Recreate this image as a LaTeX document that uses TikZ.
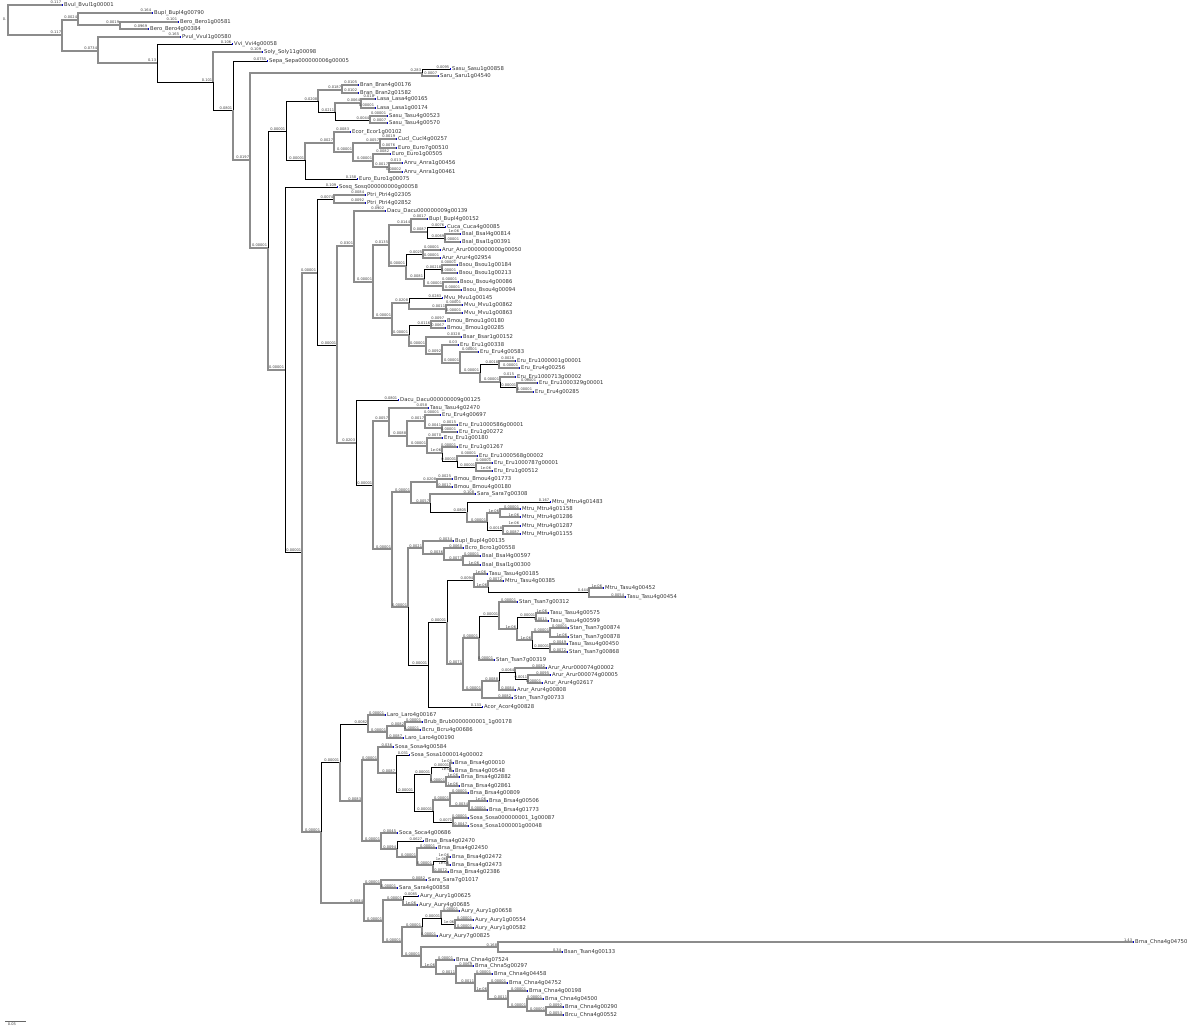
\documentclass[tikz,border=0pt]{standalone}
\usepackage{fontspec}
\newfontfamily\tf{DejaVu Sans}
\tikzset{
 gr/.style={draw=black!45, line width=1.1pt},
 bk/.style={draw=black, line width=0.8pt},
 bl/.style={font=\fontsize{3.6}{4}\selectfont\tf, text=black!75, anchor=south east, inner sep=0.4pt},
 lf/.style={font=\fontsize{5.3}{5.6}\selectfont\tf, text=black!80, anchor=west, inner sep=0.4pt, xshift=1.6pt},
 rm/.style={draw=red!80!black, line width=0.5pt},
}
\newcommand\E[6][gr]{\coordinate (#3) at (#4,#5);
  \draw[#1] (#2) |- (#3) node[bl]{#6};
  \draw[rm] (#3) -- ++(0,2.2);}
\newcommand\Lf[7][gr]{\coordinate (#3) at (#4,#5);
  \draw[#1] (#2) |- (#3) node[bl]{#6};
  \fill[blue!80!black] (#3) ++(0.2,-0.6) rectangle ++(1.2,1.2);
  \node[lf] (#3t) at (#3) {#7};}
\begin{document}
\begin{tikzpicture}[x=1pt,y=-1pt]
\useasboundingbox (0,0) rectangle (1200,1032);
\fill[white] (0,0) rectangle (1200,1032);
\coordinate (R) at (8,20);
\draw[rm] (R) -- ++(0,2.2);
\node[bl,anchor=east] (rootlab) at (7,19) {0.};
\Lf{R}{a1}{62}{5}{0.117}{Bvul\_Bvul1g00001}
\E{R}{n1}{62}{35}{0.117}
\E{n1}{n2}{78}{20}{0.0024}
\Lf{n2}{a2}{152}{13}{0.164}{Bupl\_Bupl4g00790}
\E{n2}{n3}{120}{25}{0.0019}
\Lf{n3}{a3}{178}{22}{0.101}{Bero\_Bero1g00581}
\Lf{n3}{a4}{148}{29}{0.0969}{Bero\_Bero4g00384}
\E{n1}{n4}{98}{51}{0.0734}
\Lf{n4}{a5}{180}{37}{0.165}{Pvul\_Vvul1g00580}
\E{n4}{n5}{157}{63}{0.13}
\Lf[bk]{n5}{a6}{232}{44}{0.106}{Vvi\_Vvi4g00058}
\E[bk]{n5}{n6}{213}{82}{0.101}
\Lf{n6}{a7}{262}{52}{0.109}{Soly\_Soly11g00098}
\E[bk]{n6}{n7}{233}{110}{0.0801}
\Lf[bk]{n7}{a8}{267}{61}{0.0755}{Sepa\_Sepa000000006g00005}
\E{n7}{n8}{250}{160}{0.0197}
\E{n8}{n9}{422}{73}{0.283}
\Lf[bk]{n9}{a9}{450}{69}{0.0095}{Sasu\_Sasu1g00858}
\Lf{n9}{a10}{438}{76}{0.0007}{Saru\_Saru1g04540}
\E{n8}{n10}{268}{248}{0.00001}
\E[bk]{n10}{n11}{286}{131}{0.00001}
\E[bk]{n11}{n12}{318}{101}{0.0208}
\E{n12}{n13}{342}{90}{0.0187}
\Lf{n13}{a11}{358}{85}{0.0105}{Bran\_Bran4g00176}
\Lf{n13}{a12}{358}{93}{0.0102}{Bran\_Bran2g01582}
\E[bk]{n12}{n14}{335}{112}{0.0211}
\E{n14}{n15}{361}{103}{0.0064}
\Lf{n15}{a13}{375}{99}{0.010}{Lasa\_Lasa4g00165}
\Lf{n15}{a14}{375}{108}{0.00001}{Lasa\_Lasa1g00174}
\E[bk]{n14}{n16}{370}{120}{0.0044}
\Lf{n16}{a15}{387}{116}{0.00001}{Sasu\_Tasu4g00523}
\Lf{n16}{a16}{387}{123}{0.0007}{Sasu\_Tasu4g00570}
\E[bk]{n11}{n17}{305}{160}{0.00001}
\E{n17}{n18}{334}{143}{0.0027}
\Lf{n18}{a17}{350}{132}{0.0083}{Ecor\_Ecor1g00102}
\E{n18}{n19}{353}{152}{0.00001}
\E{n19}{n20}{380}{143}{0.0057}
\Lf{n20}{a18}{396}{139}{0.0019}{Cucl\_Cucl4g00257}
\Lf{n20}{a19}{396}{148}{0.0076}{Euro\_Euro7g00510}
\E{n19}{n21}{373}{161}{0.00001}
\Lf{n21}{a20}{390}{154}{0.0082}{Euro\_Euro1g00505}
\E{n21}{n22}{389}{167}{0.0017}
\Lf{n22}{a21}{402}{163}{0.013}{Anru\_Anra1g00456}
\Lf{n22}{a22}{402}{172}{0.00002}{Anru\_Anra1g00461}
\Lf[bk]{n17}{a23}{357}{179}{0.158}{Euro\_Euro1g00075}
\E{n10}{n23}{285}{370}{0.00001}
\Lf[bk]{n23}{a24}{337}{187}{0.109}{Sosq\_Sosq000000000g00058}
\E[bk]{n23}{n24}{302}{552}{0.00001}
\E{n24}{n25}{317}{273}{0.00001}
\E[bk]{n25}{n26}{334}{199}{0.0074}
\Lf{n26}{a25}{365}{195}{0.0084}{Ptri\_Ptri4g02305}
\Lf{n26}{a26}{365}{203}{0.0092}{Ptri\_Ptri4g02852}
\E[bk]{n25}{n27}{337}{345}{0.00001}
\E{n27}{n28}{354}{246}{0.0301}
\Lf{n28}{a27}{385}{211}{0.0902}{Dacu\_Dacu000000009g00139}
\E{n28}{n29}{373}{282}{0.00001}
\E{n29}{n30}{389}{245}{0.0135}
\E{n30}{n31}{411}{225}{0.0144}
\Lf{n31}{a28}{427}{219}{0.0017}{Bupl\_Bupl4g00152}
\E{n31}{n32}{427}{232}{0.0087}
\Lf[bk]{n32}{a29}{445}{227}{0.0076}{Cuca\_Cuca4g00085}
\E[bk]{n32}{n33}{445}{238}{0.0069}
\Lf{n33}{a30}{460}{234}{1e-06}{Bsal\_Bsal4g00814}
\Lf{n33}{a31}{460}{242}{0.00001}{Bsal\_Bsal1g00391}
\E{n30}{n34}{406}{266}{0.00001}
\E[bk]{n34}{n35}{423}{254}{0.0025}
\Lf{n35}{a32}{440}{250}{0.00001}{Arur\_Arur0000000000g00050}
\Lf{n35}{a33}{440}{258}{0.00001}{Arur\_Arur4g02954}
\E{n34}{n36}{424}{279}{0.0081}
\E[bk]{n36}{n37}{442}{269}{0.00218}
\Lf{n37}{a34}{457}{265}{0.00001}{Bsou\_Bsou1g00184}
\Lf{n37}{a35}{457}{273}{0.00001}{Bsou\_Bsou1g00213}
\E{n36}{n38}{443}{286}{0.00001}
\Lf{n38}{a36}{458}{282}{0.00001}{Bsou\_Bsou4g00086}
\Lf{n38}{a37}{461}{290}{0.00001}{Bsou\_Bsou4g00094}
\E{n29}{n39}{392}{318}{0.00001}
\E{n39}{n40}{409}{303}{0.0208}
\Lf[bk]{n40}{a38}{442}{298}{0.0283}{Mvu\_Mvu1g00145}
\E{n40}{n41}{446}{309}{0.0011}
\Lf{n41}{a39}{462}{305}{0.00001}{Mvu\_Mvu1g00862}
\Lf{n41}{a40}{462}{313}{0.00001}{Mvu\_Mvu1g00863}
\E{n39}{n42}{409}{335}{0.00001}
\E[bk]{n42}{n43}{431}{325}{0.0116}
\Lf{n43}{a41}{445}{321}{0.0097}{Bmou\_Bmou1g00180}
\Lf{n43}{a42}{445}{328}{0.0067}{Bmou\_Bmou1g00285}
\E{n42}{n44}{426}{346}{0.00001}
\Lf{n44}{a43}{461}{337}{0.0328}{Bsar\_Bsar1g00152}
\E{n44}{n45}{442}{354}{0.0092}
\Lf{n45}{a44}{458}{345}{0.03}{Eru\_Eru1g00338}
\E{n45}{n46}{460}{363}{0.00001}
\Lf{n46}{a45}{478}{352}{0.00001}{Eru\_Eru4g00583}
\E{n46}{n47}{480}{373}{0.00001}
\E[bk]{n47}{n48}{499}{364}{0.0018}
\Lf{n48}{a46}{515}{361}{0.0026}{Eru\_Eru1000001g00001}
\Lf{n48}{a47}{519}{368}{0.00001}{Eru\_Eru4g00256}
\E{n47}{n49}{500}{382}{0.00001}
\Lf{n49}{a48}{515}{377}{0.015}{Eru\_Eru1000713g00002}
\E[bk]{n49}{n50}{517}{387}{0.00001}
\Lf{n50}{a49}{537}{383}{0.00001}{Eru\_Eru1000329g00001}
\Lf{n50}{a50}{533}{392}{0.00001}{Eru\_Eru4g00285}
\E{n27}{n51}{356}{443}{0.0203}
\Lf[bk]{n51}{a51}{398}{400}{0.0801}{Dacu\_Dacu000000009g00125}
\E[bk]{n51}{n52}{373}{485}{0.00001}
\E{n52}{n53}{389}{421}{0.0057}
\Lf{n53}{a52}{428}{408}{0.058}{Tasu\_Tasu4g02470}
\E{n53}{n54}{407}{436}{0.0088}
\E{n54}{n55}{425}{421}{0.0017}
\Lf{n55}{a53}{440}{415}{0.00001}{Eru\_Eru4g00697}
\E{n55}{n56}{442}{428}{0.0041}
\Lf{n56}{a54}{457}{425}{0.0015}{Eru\_Eru1000586g00001}
\Lf{n56}{a55}{457}{432}{0.00001}{Eru\_Eru1g00272}
\E{n54}{n57}{427}{446}{0.00001}
\Lf{n57}{a56}{442}{438}{0.0070}{Eru\_Eru1g00180}
\E{n57}{n58}{442}{453}{1e-06}
\Lf{n58}{a57}{457}{447}{0.00001}{Eru\_Eru1g01267}
\E[bk]{n58}{n59}{457}{461}{0.00001}
\Lf{n59}{a58}{477}{456}{0.00001}{Eru\_Eru1000568g00002}
\E[bk]{n59}{n60}{476}{467}{0.00001}
\Lf{n60}{a59}{492}{463}{0.00001}{Eru\_Eru1000787g00001}
\Lf{n60}{a60}{492}{471}{1e-06}{Eru\_Eru1g00512}
\E{n52}{n61}{392}{549}{0.00001}
\E{n61}{n62}{411}{492}{0.00001}
\E{n62}{n63}{437}{482}{0.0208}
\Lf{n63}{a61}{452}{479}{0.0025}{Bmou\_Bmou4g01773}
\Lf{n63}{a62}{452}{487}{0.0017}{Bmou\_Bmou4g00180}
\E{n62}{n64}{430}{503}{0.0057}
\Lf{n64}{a63}{475}{494}{0.108}{Sara\_Sara7g00308}
\E[bk]{n64}{n65}{467}{512}{0.0805}
\Lf[bk]{n65}{a64}{550}{502}{0.167}{Mtru\_Mtru4g01483}
\E{n65}{n66}{487}{522}{0.00001}
\E{n66}{n67}{500}{513}{1e-06}
\Lf{n67}{a65}{520}{509}{0.00001}{Mtru\_Mtru4g01158}
\Lf{n67}{a66}{520}{517}{1e-06}{Mtru\_Mtru4g01286}
\E[bk]{n66}{n68}{503}{530}{0.0018}
\Lf{n68}{a67}{520}{526}{1e-06}{Mtru\_Mtru4g01287}
\Lf{n68}{a68}{520}{534}{0.0087}{Mtru\_Mtru4g01155}
\E{n61}{n69}{408}{607}{0.00001}
\E{n69}{n70}{423}{548}{0.0021}
\Lf{n70}{a69}{453}{541}{0.0034}{Bupl\_Bupl4g00135}
\E{n70}{n71}{444}{554}{0.0036}
\Lf{n71}{a70}{463}{548}{0.0060}{Bcro\_Bcro1g00558}
\E{n71}{n72}{463}{560}{0.0073}
\Lf{n72}{a71}{480}{556}{0.00001}{Bsal\_Bsal4g00597}
\Lf{n72}{a72}{480}{565}{1e-06}{Bsal\_Bsal1g00300}
\E[bk]{n69}{n73}{428}{665}{0.00001}
\E[bk]{n73}{n74}{447}{622}{0.00001}
\E[bk]{n74}{n75}{474}{580}{0.0094}
\Lf{n75}{a73}{487}{574}{1e-06}{Tasu\_Tasu4g00185}
\E{n75}{n76}{488}{587}{1e-06}
\Lf{n76}{a74}{503}{581}{0.0072}{Mtru\_Tasu4g00385}
\E[bk]{n76}{n77}{589}{592}{0.444}
\Lf{n77}{a75}{603}{588}{1e-06}{Mtru\_Tasu4g00452}
\Lf{n77}{a76}{625}{597}{0.0054}{Tasu\_Tasu4g00454}
\E{n74}{n78}{463}{664}{0.0071}
\E{n78}{n79}{479}{638}{0.00001}
\E[bk]{n79}{n80}{499}{616}{0.00001}
\Lf{n80}{a77}{517}{602}{0.00001}{Stan\_Tsan7g00312}
\E{n80}{n81}{517}{629}{1e-06}
\E[bk]{n81}{n82}{536}{617}{0.00001}
\Lf{n82}{a78}{548}{613}{1e-06}{Tasu\_Tasu4g00575}
\Lf{n82}{a79}{548}{621}{0.0011}{Tasu\_Tasu4g00599}
\E{n81}{n83}{532}{640}{1e-06}
\E{n83}{n84}{550}{632}{0.00001}
\Lf{n84}{a80}{568}{628}{0.00001}{Stan\_Tsan7g00874}
\Lf{n84}{a81}{568}{637}{1e-06}{Stan\_Tsan7g00878}
\E[bk]{n83}{n85}{550}{648}{0.00001}
\Lf{n85}{a82}{567}{644}{0.0049}{Tasu\_Tasu4g00450}
\Lf{n85}{a83}{567}{652}{0.0072}{Stan\_Tsan7g00868}
\Lf{n79}{a84}{494}{660}{0.00001}{Stan\_Tsan7g00319}
\E{n78}{n86}{482}{690}{0.00001}
\E{n86}{n87}{499}{681}{0.0088}
\E[bk]{n87}{n88}{515}{672}{0.0064}
\Lf{n88}{a85}{546}{668}{0.0082}{Arur\_Arur000074g00002}
\E[bk]{n88}{n89}{528}{679}{0.0011}
\Lf{n89}{a86}{550}{675}{0.0095}{Arur\_Arur000074g00005}
\Lf{n89}{a87}{542}{683}{0.00001}{Arur\_Arur4g02617}
\Lf{n87}{a88}{515}{690}{0.0084}{Arur\_Arur4g00808}
\Lf{n86}{a89}{512}{698}{0.0082}{Stan\_Tsan7g00733}
\Lf[bk]{n73}{a90}{482}{707}{0.133}{Acor\_Acor4g00828}
\E{n24}{n90}{321}{832}{0.00001}
\E[bk]{n90}{n91}{340}{762}{0.00001}
\E[bk]{n91}{n92}{368}{724}{0.0082}
\Lf{n92}{a91}{385}{715}{0.00001}{Laro\_Laro4g00167}
\E{n92}{n93}{387}{732}{0.00001}
\E{n93}{n94}{405}{726}{0.0082}
\Lf{n94}{a92}{422}{722}{0.00001}{Brub\_Brub0000000001\_1g00178}
\Lf{n94}{a93}{420}{730}{0.00001}{Bcru\_Bcru4g00686}
\Lf{n93}{a94}{403}{738}{0.0087}{Laro\_Laro4g00190}
\E{n91}{n95}{362}{801}{0.0083}
\E{n95}{n96}{378}{760}{0.00001}
\Lf{n96}{a95}{393}{747}{0.036}{Sosa\_Sosa4g00584}
\E{n96}{n97}{396}{773}{0.0087}
\Lf[bk]{n97}{a96}{409}{755}{0.031}{Sosa\_Sosa1000014g00002}
\E[bk]{n97}{n98}{414}{792}{0.00001}
\E[bk]{n98}{n99}{431}{774}{0.00001}
\E[bk]{n99}{n100}{450}{767}{0.00001}
\Lf{n100}{a97}{453}{763}{1e-06}{Brsa\_Brsa4g00010}
\Lf{n100}{a98}{453}{771}{1e-06}{Brsa\_Brsa4g00548}
\E{n99}{n101}{446}{782}{0.00001}
\Lf{n101}{a99}{459}{777}{1e-06}{Brsa\_Brsa4g02882}
\Lf{n101}{a100}{459}{786}{1e-06}{Brsa\_Brsa4g02861}
\E[bk]{n98}{n102}{433}{811}{0.00001}
\E{n102}{n103}{450}{800}{0.00001}
\Lf{n103}{a101}{468}{793}{0.00001}{Brsa\_Brsa4g00809}
\E{n103}{n104}{469}{806}{0.0034}
\Lf{n104}{a102}{487}{801}{1e-06}{Brsa\_Brsa4g00506}
\Lf{n104}{a103}{487}{810}{0.00001}{Brsa\_Brsa4g01773}
\E[bk]{n102}{n105}{453}{822}{0.0071}
\Lf{n105}{a104}{468}{818}{0.00001}{Sosa\_Sosa000000001\_1g00087}
\Lf{n105}{a105}{468}{826}{0.0047}{Sosa\_Sosa1000001g00048}
\E{n95}{n106}{381}{841}{0.00001}
\Lf{n106}{a106}{397}{833}{0.0045}{Soca\_Soca4g00686}
\E{n106}{n107}{397}{849}{0.0094}
\Lf[bk]{n107}{a107}{423}{841}{0.0627}{Brsa\_Brsa4g02470}
\E{n107}{n108}{417}{857}{0.00001}
\Lf{n108}{a108}{436}{848}{0.00001}{Brsa\_Brsa4g02450}
\E{n108}{n109}{433}{865}{0.00001}
\E[bk]{n109}{n110}{447}{861}{1e-06}
\Lf{n110}{a109}{450}{857}{1e-06}{Brsa\_Brsa4g02472}
\Lf{n110}{a110}{450}{865}{1e-06}{Brsa\_Brsa4g02473}
\Lf{n109}{a111}{448}{872}{0.0072}{Brsa\_Brsa4g02386}
\E{n90}{n111}{364}{903}{0.0084}
\E{n111}{n112}{381}{884}{0.00001}
\Lf{n112}{a112}{426}{880}{0.0082}{Sara\_Sara7g01017}
\Lf{n112}{a113}{397}{888}{0.00001}{Sara\_Sara4g00858}
\E{n111}{n113}{383}{921}{0.00001}
\E{n113}{n114}{403}{900}{0.00001}
\Lf[bk]{n114}{a114}{418}{896}{0.0085}{Aury\_Aury1g00625}
\Lf{n114}{a115}{417}{905}{1e-06}{Aury\_Aury4g00685}
\E{n113}{n115}{402}{942}{0.00001}
\E{n115}{n116}{422}{927}{0.00001}
\E[bk]{n116}{n117}{441}{918}{0.00001}
\Lf{n117}{a116}{459}{911}{0.00001}{Aury\_Aury1g00658}
\E[bk]{n117}{n118}{455}{924}{1e-06}
\Lf{n118}{a117}{473}{920}{0.00001}{Aury\_Aury1g00554}
\Lf{n118}{a118}{473}{928}{0.00001}{Aury\_Aury1g00582}
\Lf{n116}{a119}{437}{936}{0.00001}{Aury\_Aury7g00825}
\E{n115}{n119}{421}{956}{0.00001}
\E{n119}{n120}{498}{947}{0.168}
\Lf{n120}{a120}{1133}{942}{1.43}{Brna\_Chna4g04750}
\Lf{n120}{a121}{562}{952}{0.34}{Bsan\_Tsan4g00133}
\E{n119}{n121}{436}{967}{1e-06}
\Lf{n121}{a122}{454}{960}{0.00001}{Brna\_Chna4g07524}
\E{n121}{n122}{456}{974}{0.0011}
\Lf{n122}{a123}{473}{966}{0.0069}{Brna\_Chna5g00297}
\E{n122}{n123}{475}{983}{0.0011}
\Lf{n123}{a124}{492}{974}{0.00001}{Brna\_Chna4g04458}
\E{n123}{n124}{488}{991}{1e-06}
\Lf{n124}{a125}{507}{983}{0.00001}{Brna\_Chna4g04752}
\E{n124}{n125}{508}{999}{0.0011}
\Lf{n125}{a126}{527}{991}{0.00001}{Brna\_Chna4g00198}
\E{n125}{n126}{527}{1007}{0.00001}
\Lf{n126}{a127}{543}{999}{0.00001}{Brna\_Chna4g04500}
\E{n126}{n127}{546}{1011}{0.00001}
\Lf{n127}{a128}{563}{1007}{0.0092}{Brna\_Chna4g00290}
\Lf{n127}{a129}{563}{1015}{0.0053}{Brcu\_Chna4g00552}
% scale bar
\coordinate (sb1) at (5,1021);
\coordinate (sb2) at (26,1021);
\draw[black!60, line width=0.6pt] (sb1) -- (sb2);
\node[bl,anchor=north] (sbl) at (12,1022) {0.05};
\end{tikzpicture}
\end{document}
